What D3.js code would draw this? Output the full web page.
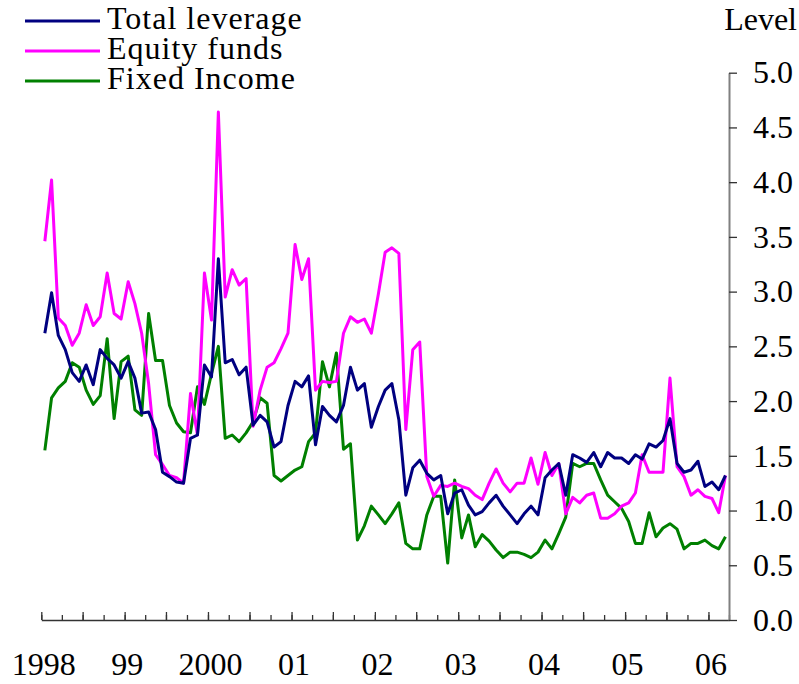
<!DOCTYPE html>
<html>
<head>
<meta charset="utf-8">
<script src="https://d3js.org/d3.v7.min.js"></script>
<style>
  body { margin: 0; background: #fff; }
  text { font-family: "Liberation Serif", "Times New Roman", serif; }
</style>
</head>
<body>
<div id="graph"></div>
<script>

// monthly data, Jan 1998 - Mar 2006
var totalLeverage = [2.62,2.99,2.60,2.47,2.26,2.18,2.33,2.15,2.47,2.39,2.33,2.21,
  2.36,2.21,1.89,1.90,1.74,1.35,1.31,1.26,1.25,1.66,1.69,2.33,
  2.22,3.30,2.35,2.38,2.24,2.31,1.78,1.87,1.81,1.58,1.63,1.96,
  2.18,2.13,2.23,1.60,1.95,1.87,1.81,1.96,2.31,2.10,2.16,1.76,
  1.95,2.10,2.16,1.83,1.14,1.39,1.46,1.34,1.28,1.32,0.97,1.16,
  1.19,1.05,0.96,0.99,1.07,1.14,1.04,0.96,0.88,0.97,1.04,0.96,
  1.30,1.37,1.43,1.14,1.51,1.48,1.44,1.53,1.40,1.53,1.48,1.48,
  1.43,1.51,1.47,1.61,1.58,1.64,1.84,1.43,1.35,1.37,1.45,1.22,
  1.26,1.19,1.32];

var equityFunds = [3.46,4.02,2.76,2.69,2.51,2.62,2.88,2.69,2.77,3.17,2.80,2.75,
  3.09,2.89,2.62,2.16,1.51,1.42,1.32,1.30,1.25,2.07,1.69,3.17,
  2.74,4.64,2.95,3.20,3.06,3.12,1.77,2.10,2.31,2.35,2.48,2.62,
  3.43,3.11,3.30,2.10,2.18,2.17,2.18,2.62,2.77,2.72,2.75,2.62,
  2.98,3.36,3.40,3.35,1.74,2.47,2.54,1.31,1.13,1.23,1.22,1.25,
  1.22,1.20,1.14,1.10,1.25,1.38,1.25,1.17,1.25,1.25,1.48,1.24,
  1.53,1.32,1.43,0.97,1.12,1.07,1.14,1.16,0.93,0.93,0.97,1.04,
  1.07,1.16,1.51,1.35,1.35,1.35,2.21,1.40,1.31,1.14,1.19,1.13,
  1.11,0.98,1.32];

var fixedIncome = [1.55,2.03,2.12,2.18,2.35,2.31,2.10,1.97,2.05,2.57,1.84,2.36,
  2.41,1.92,1.87,2.80,2.37,2.37,1.96,1.80,1.72,1.71,2.13,1.97,
  2.25,2.50,1.66,1.69,1.63,1.71,1.81,2.03,1.98,1.32,1.27,1.32,
  1.37,1.40,1.63,1.71,2.36,2.13,2.44,1.56,1.61,0.73,0.86,1.04,
  0.96,0.88,0.97,1.07,0.70,0.65,0.65,0.96,1.13,1.13,0.52,1.28,
  0.75,0.96,0.67,0.78,0.72,0.64,0.57,0.62,0.62,0.60,0.57,0.62,
  0.73,0.65,0.79,0.94,1.43,1.40,1.43,1.43,1.28,1.14,1.08,1.02,
  0.90,0.70,0.70,0.98,0.76,0.84,0.88,0.83,0.65,0.70,0.70,0.73,
  0.68,0.65,0.76];

var seriesNames = ["Total leverage", "Equity funds", "Fixed Income"];
var seriesColors = ["#000080", "#ff00ff", "#008000"];
var yearLabels = ["1998", "99", "2000", "01", "02", "03", "04", "05", "06"];
var yTicks = [0, 0.5, 1, 1.5, 2, 2.5, 3, 3.5, 4, 4.5, 5];

var width = 799, height = 684;

var svg = d3.select("#graph")
  .append("svg")
    .attr("width", width)
    .attr("height", height);

var start = new Date(1998, 0, 1);
var end = new Date(2006, 3, 1);

var x = d3.scaleTime()
  .domain([start, end])
  .range([41.3, 729]);

var y = d3.scaleLinear()
  .domain([0, 5])
  .range([620, 72.7]);

// month centres
function monthDate(i) {
  var a = d3.timeMonth.offset(start, i);
  var b = d3.timeMonth.offset(start, i + 1);
  return new Date((a.getTime() + b.getTime()) / 2);
}

// x axis: quarter ticks short, half-year ticks taller, pointing up
var quarters = d3.timeMonth.every(3).range(start, d3.timeDay.offset(end, 1));
var halfYears = d3.timeMonth.every(6).range(start, d3.timeDay.offset(end, 1));
var years = d3.timeYear.range(start, end);

svg.append("g")
  .attr("transform", "translate(0,620)")
  .call(d3.axisBottom(x).tickValues(quarters).tickSize(-5).tickSizeOuter(0).tickFormat(""))
  .call(function(g) {
    g.select(".domain").attr("stroke", "#333").attr("stroke-width", 1.3);
    g.selectAll(".tick line").attr("stroke", "#333").attr("stroke-width", 1.3);
  });

svg.append("g")
  .attr("transform", "translate(0,620)")
  .call(d3.axisBottom(x).tickValues(halfYears).tickSize(-8).tickSizeOuter(0).tickFormat(""))
  .call(function(g) {
    g.select(".domain").remove();
    g.selectAll(".tick line").attr("stroke", "#333").attr("stroke-width", 1.3);
  });

svg.append("g")
  .attr("transform", "translate(2,620)")
  .call(d3.axisBottom(x).tickValues(years).tickSize(0).tickPadding(32)
    .tickFormat(function(d, i) { return yearLabels[i]; }))
  .call(function(g) {
    g.select(".domain").remove();
    g.selectAll("text")
      .attr("font-family", "'Liberation Serif', 'Times New Roman', serif")
      .attr("font-size", "32px")
      .attr("fill", "#000");
  });

// y axis on the right
svg.append("g")
  .attr("transform", "translate(729,0)")
  .call(d3.axisRight(y).tickValues(yTicks).tickSize(8).tickSizeOuter(0).tickPadding(16)
    .tickFormat(d3.format(".1f")))
  .call(function(g) {
    g.select(".domain").attr("stroke", "#808080").attr("stroke-width", 2);
    g.selectAll(".tick line").attr("stroke", "#333").attr("stroke-width", 1.3);
    g.selectAll("text")
      .attr("font-family", "'Liberation Serif', 'Times New Roman', serif")
      .attr("font-size", "32px")
      .attr("fill", "#000");
  });

svg.append("text")
  .attr("x", 797)
  .attr("y", 30)
  .attr("text-anchor", "end")
  .attr("font-size", "32px")
  .text("Level");

// lines
var allSeries = [totalLeverage, equityFunds, fixedIncome];
var line = d3.line()
  .x(function(d, i) { return x(monthDate(i)); })
  .y(function(d) { return y(d); });

// draw fixed income first so navy sits on top like the original
[2, 1, 0].forEach(function(k) {
  svg.append("path")
    .datum(allSeries[k])
    .attr("fill", "none")
    .attr("stroke", seriesColors[k])
    .attr("stroke-width", 3)
    .attr("stroke-linejoin", "round")
    .attr("d", line);
});

// legend
var legend = svg.selectAll(".legend")
  .data(seriesNames)
  .enter().append("g")
    .attr("class", "legend")
    .attr("transform", function(d, i) { return "translate(0," + (i * 30) + ")"; });

legend.append("line")
  .attr("x1", 25).attr("x2", 100)
  .attr("y1", 21).attr("y2", 21)
  .attr("stroke", function(d, i) { return seriesColors[i]; })
  .attr("stroke-width", 3);

legend.append("text")
  .attr("x", 107)
  .attr("y", 28.5)
  .attr("font-size", "32px")
  .attr("letter-spacing", "1px")
  .text(function(d) { return d; });

</script>
</body>
</html>
